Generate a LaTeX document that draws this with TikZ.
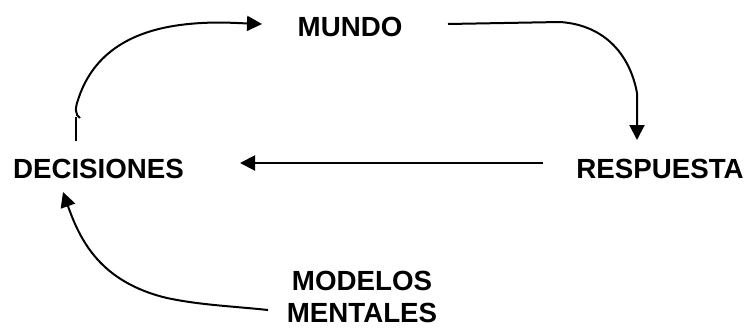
\documentclass[tikz,border=0pt]{standalone}
\usepackage{fontspec}
\setmainfont{Liberation Sans}
\usetikzlibrary{arrows.meta}
\begin{document}
\begin{tikzpicture}[x=1pt,y=-1pt,
  lbl/.style={font=\fontsize{27.7}{32}\selectfont\bfseries, inner sep=0pt, anchor=base, align=center},
  conn/.style={line width=2pt, -{Triangle[length=15pt,width=15pt]}},
  plain/.style={line width=2pt}]
\useasboundingbox (0,0) rectangle (749,327);
\node[lbl] (mundo) at (350,36) {MUNDO};
\node[lbl] (dec) at (98.5,178) {DECISIONES};
\node[lbl] (resp) at (660,178) {RESPUESTA};
\node[lbl] (mod) at (362,322) {MODELOS\\MENTALES};
% named free ends
\coordinate (d1) at (76,141);
\coordinate (d2) at (76,117);
\coordinate (d3) at (80,118);
\coordinate (m1) at (262,24);
\coordinate (m2) at (448,24);
\coordinate (r1) at (637,140);
\coordinate (r2) at (543,163);
\coordinate (e1) at (240,163);
\coordinate (k1) at (268,310);
\coordinate (k2) at (63,192);
% decisiones -> mundo
\draw[plain] (d1) -- (d2);
\draw[conn] (d3) .. controls (75,115) and (75,108) .. (78,100)
  .. controls (90,62) and (120,33) .. (180,25)
  .. controls (210,21) and (235,23) .. (m1);
% mundo -> respuesta
\draw[conn] (m2) -- (560,22) .. controls (605,25) and (630,55) .. (637,93) -- (r1);
% respuesta -> decisiones
\draw[conn] (r2) -- (e1);
% modelos -> decisiones
\draw[conn] (k1) .. controls (230,306) and (200,305) .. (167,298)
  .. controls (100,282) and (80,240) .. (k2);
\end{tikzpicture}
\end{document}
